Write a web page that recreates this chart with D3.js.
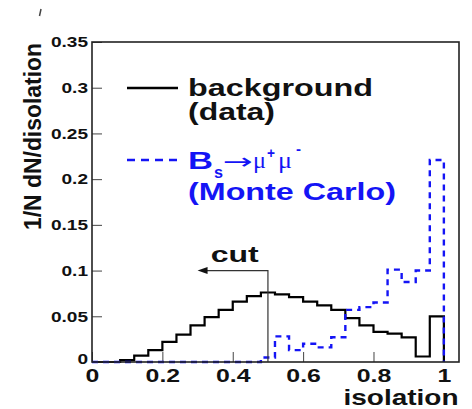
<!DOCTYPE html>
<html>
<head>
<meta charset="utf-8">
<script src="https://cdn.jsdelivr.net/npm/d3@7"></script>
<style>
    body { margin: 0; background: #fff; }
    svg { display: block; font-family: "Liberation Sans", Arial, sans-serif; }
</style>
</head>
<body>
<div id="chart"></div>
<script>
// bin edges of the isolation histograms
const binEdges = [0, 0.04, 0.08, 0.12, 0.16, 0.2, 0.24, 0.28, 0.32, 0.36, 0.4, 0.44, 0.48,
    0.52, 0.56, 0.6, 0.64, 0.68, 0.72, 0.76, 0.8, 0.84, 0.88, 0.92, 0.96, 1.0];

// background (data), per bin
const backgroundData = [0, 0, 0.002, 0.007, 0.013, 0.022, 0.030, 0.040, 0.049, 0.057, 0.066, 0.072,
    0.076, 0.074, 0.071, 0.066, 0.062, 0.057, 0.048, 0.040, 0.033, 0.031, 0.027, 0.006, 0.050];

// Bs -> mu mu (Monte Carlo), per bin
const signalMC = [0, 0, 0, 0, 0, 0, 0, 0, 0, 0, 0, 0,
    0.005, 0.028, 0.013, 0.020, 0.016, 0.027, 0.057, 0.060, 0.065, 0.101, 0.0875, 0.100, 0.221];

const xTicks = [0, 0.2, 0.4, 0.6, 0.8, 1];
const xTickLabels = ["0", "0.2", "0.4", "0.6", "0.8", "1"];
const yTicks = [0, 0.05, 0.1, 0.15, 0.2, 0.25, 0.3, 0.35];
const yTickLabels = ["0", "0.05", "0.1", "0.15", "0.2", "0.25", "0.3", "0.35"];

const cutValue = 0.5;
const cutArrowEnd = 0.3;
const cutArrowLevel = 0.1;

const width = 472, height = 409;
const frame = { left: 92, right: 459, top: 42, bottom: 362 };
const blue = "#1414f5";

const x = d3.scaleLinear().domain([0, 1.043]).range([frame.left, frame.right]);
const y = d3.scaleLinear().domain([0, 0.35]).range([frame.bottom, frame.top]);

const svg = d3.select("#chart")
    .append("svg")
    .attr("width", width)
    .attr("height", height);

svg.append("rect")
    .attr("width", width)
    .attr("height", height)
    .attr("fill", "#fff");

// widen text horizontally like the (stretched) original
function stretch(sel, k) {
    sel.each(function () {
        const w = this.getComputedTextLength();
        d3.select(this)
            .attr("textLength", w * k)
            .attr("lengthAdjust", "spacingAndGlyphs");
    });
}

function fit(sel, w) {
    sel.attr("textLength", w).attr("lengthAdjust", "spacingAndGlyphs");
}

// axes
const yAxis = svg.append("g")
    .attr("transform", `translate(${frame.left},0)`)
    .call(d3.axisLeft(y)
        .tickValues(yTicks)
        .tickFormat(d => yTickLabels[yTicks.indexOf(d)])
        .tickSizeInner(-10)
        .tickSizeOuter(0)
        .tickPadding(4));
yAxis.select(".domain").remove();
yAxis.selectAll(".tick line").attr("stroke", "#444").attr("stroke-width", 1);
yAxis.selectAll(".tick text")
    .attr("font-size", 15)
    .attr("font-weight", "bold")
    .attr("font-family", "'Liberation Sans', Arial, sans-serif")
    .attr("fill", "#111")
    .attr("dy", d => d === 0 ? "0.09em" : "0.32em")
    .call(stretch, 1.27);

const xAxis = svg.append("g")
    .attr("transform", `translate(0,${frame.bottom})`)
    .call(d3.axisBottom(x)
        .tickValues(xTicks)
        .tickFormat(d => xTickLabels[xTicks.indexOf(d)])
        .tickSizeInner(-10)
        .tickSizeOuter(0)
        .tickPadding(7));
xAxis.select(".domain").remove();
xAxis.selectAll(".tick line").attr("stroke", "#444").attr("stroke-width", 1);
xAxis.selectAll(".tick text")
    .attr("font-size", 18)
    .attr("font-weight", "bold")
    .attr("font-family", "'Liberation Sans', Arial, sans-serif")
    .attr("fill", "#111")
    .call(stretch, 1.38);

// histograms
function stepPoints(values) {
    const pts = [[binEdges[0], 0]];
    values.forEach((v, i) => pts.push([binEdges[i], v]));
    pts.push([binEdges[values.length], values[values.length - 1]]);
    pts.push([binEdges[values.length], 0]);
    return pts;
}

const line = d3.line()
    .x(d => x(d[0]))
    .y(d => y(d[1]))
    .curve(d3.curveStepAfter);

svg.append("path")
    .attr("d", line(stepPoints(backgroundData)))
    .attr("fill", "none")
    .attr("stroke", "#000")
    .attr("stroke-width", 2.2);

svg.append("path")
    .attr("d", line(stepPoints(signalMC)))
    .attr("fill", "none")
    .attr("stroke", blue)
    .attr("stroke-width", 2.4)
    .attr("stroke-dasharray", "6,5");

// frame
svg.append("rect")
    .attr("x", frame.left)
    .attr("y", frame.top)
    .attr("width", frame.right - frame.left)
    .attr("height", frame.bottom - frame.top)
    .attr("fill", "none")
    .attr("stroke", "#222")
    .attr("stroke-width", 1.6);

// cut marker
svg.append("path")
    .attr("d", `M${x(cutValue)},${y(0)}V${y(cutArrowLevel)}H${x(cutArrowEnd) + 9}`)
    .attr("fill", "none")
    .attr("stroke", "#333")
    .attr("stroke-width", 1.2);

svg.append("path")
    .attr("d", `M${x(cutArrowEnd)},${y(cutArrowLevel)}l10,-3.5v7z`)
    .attr("fill", "#111");

svg.append("text")
    .attr("x", x((cutValue + cutArrowEnd) / 2) + 2)
    .attr("y", y(cutArrowLevel) - 9)
    .attr("text-anchor", "middle")
    .attr("font-size", 22)
    .attr("font-weight", "bold")
    .attr("fill", "#111")
    .text("cut")
    .call(fit, 48);

// legend
svg.append("line")
    .attr("x1", 127).attr("x2", 178)
    .attr("y1", 88).attr("y2", 88)
    .attr("stroke", "#000")
    .attr("stroke-width", 2.5);

svg.append("text")
    .attr("x", 188).attr("y", 96)
    .attr("font-size", 24).attr("font-weight", "bold").attr("fill", "#111")
    .text("background")
    .call(fit, 185);

svg.append("text")
    .attr("x", 188).attr("y", 120)
    .attr("font-size", 24).attr("font-weight", "bold").attr("fill", "#111")
    .text("(data)")
    .call(fit, 87);

svg.append("line")
    .attr("x1", 127).attr("x2", 178)
    .attr("y1", 160).attr("y2", 160)
    .attr("stroke", blue)
    .attr("stroke-width", 2.5)
    .attr("stroke-dasharray", "8,6");

const sig = svg.append("g").attr("fill", blue);

sig.append("text")
    .attr("x", 188).attr("y", 168.5)
    .attr("font-size", 24).attr("font-weight", "bold")
    .text("B")
    .call(fit, 25);

sig.append("text")
    .attr("x", 214).attr("y", 177.5)
    .attr("font-size", 16).attr("font-weight", "bold")
    .text("s")
    .call(fit, 9);

sig.append("text")
    .attr("x", 223).attr("y", 169)
    .attr("font-size", 22)
    .attr("font-family", "'DejaVu Sans', sans-serif")
    .text("\u2192")
    .call(fit, 30);

sig.append("text")
    .attr("x", 253).attr("y", 168)
    .attr("font-size", 23)
    .attr("font-family", "'Liberation Serif', serif")
    .text("\u03bc")
    .call(fit, 13);

sig.append("text")
    .attr("x", 267).attr("y", 158)
    .attr("font-size", 14).attr("font-weight", "bold")
    .text("+")
    .call(fit, 8);

sig.append("text")
    .attr("x", 278).attr("y", 168)
    .attr("font-size", 23)
    .attr("font-family", "'Liberation Serif', serif")
    .text("\u03bc")
    .call(fit, 14);

sig.append("text")
    .attr("x", 296).attr("y", 154)
    .attr("font-size", 14).attr("font-weight", "bold")
    .text("-")
    .call(fit, 5);

sig.append("text")
    .attr("x", 188).attr("y", 200)
    .attr("font-size", 24).attr("font-weight", "bold")
    .text("(Monte Carlo)")
    .call(fit, 208);

// axis titles
svg.append("text")
    .attr("transform", "translate(41,136.5) rotate(-90)")
    .attr("text-anchor", "middle")
    .attr("font-size", 23).attr("font-weight", "bold").attr("fill", "#111")
    .text("1/N dN/disolation")
    .call(fit, 187);

svg.append("text")
    .attr("x", 458.5).attr("y", 405)
    .attr("text-anchor", "end")
    .attr("font-size", 22).attr("font-weight", "bold").attr("fill", "#111")
    .text("isolation")
    .call(fit, 115);

// small stray mark at top left of the scan
svg.append("line")
    .attr("x1", 39.5).attr("y1", 16)
    .attr("x2", 41).attr("y2", 9)
    .attr("stroke", "#444")
    .attr("stroke-width", 1.5);
</script>
</body>
</html>
